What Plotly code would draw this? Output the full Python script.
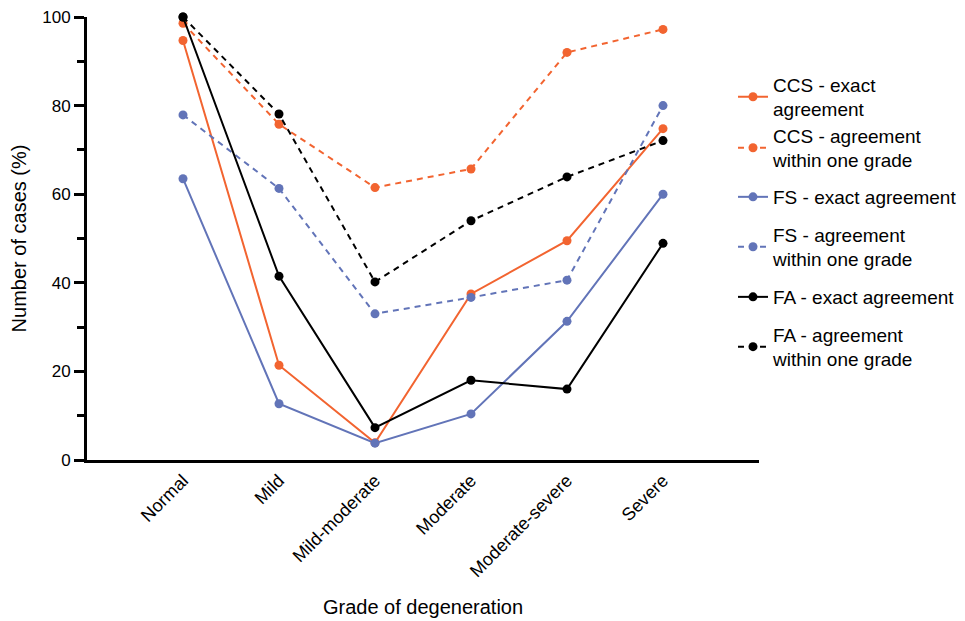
import plotly.graph_objects as go

categories = ["Normal", "Mild", "Mild-moderate", "Moderate", "Moderate-severe", "Severe"]

ccs_exact = [94.7, 21.4, 3.9, 37.5, 49.5, 74.8]
ccs_within = [98.6, 75.8, 61.5, 65.7, 92.0, 97.2]
fs_exact = [63.5, 12.7, 3.8, 10.4, 31.3, 60.0]
fs_within = [77.9, 61.3, 33.0, 36.7, 40.6, 80.0]
fa_exact = [100.0, 41.5, 7.3, 18.0, 16.0, 48.9]
fa_within = [100.0, 78.1, 40.2, 54.0, 63.9, 72.1]

names = [
    "CCS - exact<br>agreement",
    "CCS - agreement<br>within one grade",
    "FS - exact agreement",
    "FS - agreement<br>within one grade",
    "FA - exact agreement",
    "FA - agreement<br>within one grade",
]

ORANGE = "#F26430"
BLUE = "#6274B8"
BLACK = "#000000"

series = [
    (ccs_exact, ORANGE, "solid"),
    (ccs_within, ORANGE, "6px,5px"),
    (fs_exact, BLUE, "solid"),
    (fs_within, BLUE, "6px,5px"),
    (fa_exact, BLACK, "solid"),
    (fa_within, BLACK, "6px,5px"),
]

legend_ids = ["legend", "legend2", "legend3", "legend4", "legend5", "legend6"]
legend_y = [0.8194, 0.7043, 0.5937, 0.4808, 0.3679, 0.2551]

fig = go.Figure()
for (vals, color, dash), name, lid in zip(series, names, legend_ids):
    fig.add_trace(go.Scatter(
        x=categories, y=vals, name=name, mode="lines+markers",
        line=dict(color=color, width=2, dash=dash),
        marker=dict(color=color, size=9),
        cliponaxis=False,
        legend=lid,
    ))

font = "Liberation Sans, Arial, sans-serif"
legends = {}
for lid, ly in zip(legend_ids, legend_y):
    legends[lid] = dict(x=0.9613, xanchor="left", y=ly, yanchor="middle",
                        font=dict(size=19, family=font, color="black"),
                        itemwidth=30, valign="middle",
                        bgcolor="rgba(0,0,0,0)")

fig.update_layout(
    width=985, height=610,
    margin=dict(l=79, r=234, t=9, b=158),
    plot_bgcolor="white", paper_bgcolor="white",
    font=dict(family=font, size=16, color="black"),
    showlegend=True,
    **legends,
    xaxis=dict(
        type="category", categoryorder="array", categoryarray=categories,
        range=[-1, 6], showline=True, linewidth=3, linecolor="black",
        showgrid=False, zeroline=False, ticks="", tickangle=-45,
        tickfont=dict(size=18), automargin=False, ticklabeloverflow="allow",
        title=dict(text="Grade of degeneration", font=dict(size=20), standoff=22),
    ),
    yaxis=dict(
        range=[0, 100], showline=True, linewidth=3, linecolor="black",
        showgrid=False, zeroline=False, ticks="outside", ticklen=10, tickwidth=3,
        tickcolor="black", tickvals=[0, 20, 40, 60, 80, 100],
        tickfont=dict(size=17), automargin=False, ticklabeloverflow="allow",
        minor=dict(ticks="outside", ticklen=7, tickwidth=3, tickcolor="black",
                   tickvals=[10, 30, 50, 70, 90], showgrid=False),
        title=dict(text="Number of cases (%)", font=dict(size=20), standoff=13),
    ),
)

fig.write_html("out.html")
